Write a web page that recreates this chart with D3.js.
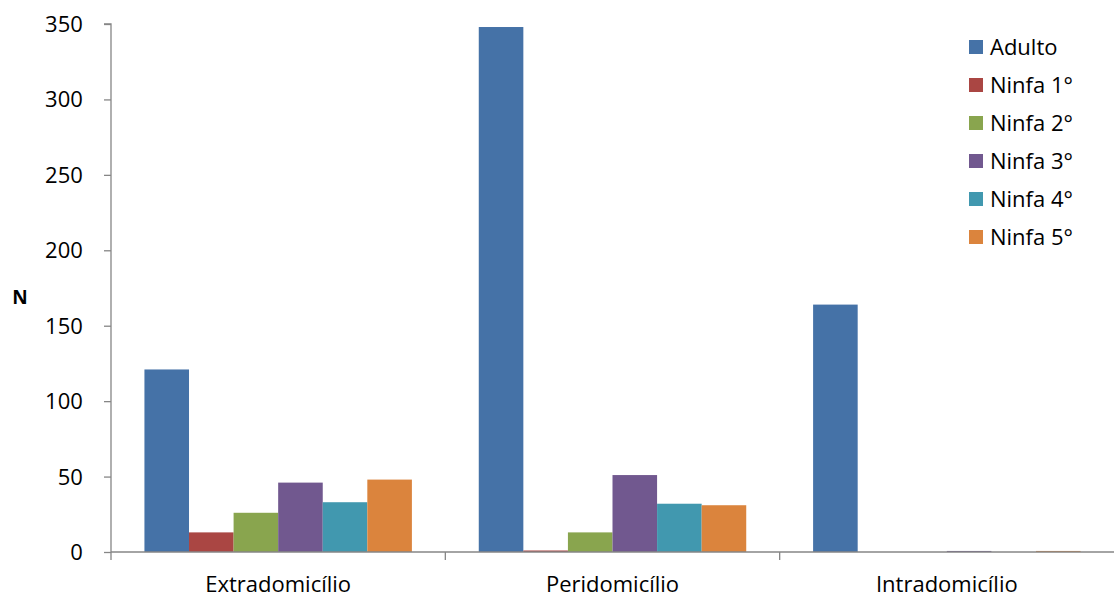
<!DOCTYPE html>
<html><head><meta charset="utf-8">
<script src="https://cdn.jsdelivr.net/npm/d3@7"></script>
<style>body{margin:0;background:#fff}svg{display:block;font-family:"Open Sans",sans-serif}</style>
</head><body><svg id="c" width="1114" height="599"></svg>
<script>
const categories = ["Extradomicílio", "Peridomicílio", "Intradomicílio"];
const seriesNames = ["Adulto", "Ninfa 1°", "Ninfa 2°", "Ninfa 3°", "Ninfa 4°", "Ninfa 5°"];
const adulto = [121, 348, 164];
const ninfa1 = [13, 1, 0];
const ninfa2 = [26, 13, 0];
const ninfa3 = [46, 51, 0.7];
const ninfa4 = [33, 32, 0];
const ninfa5 = [48, 31, 0.7];
const yTicks = [0, 50, 100, 150, 200, 250, 300, 350];
const colors = ["#4572A7", "#AA4643", "#89A54E", "#71588F", "#4198AF", "#DB843D"];
const seriesValues = [adulto, ninfa1, ninfa2, ninfa3, ninfa4, ninfa5];

const svg = d3.select("#c");
const m = {l: 111, r: 0, t: 24, b: 47};
const W = 1114, H = 599;
const FS = 22;
const x0 = d3.scaleBand().domain(categories).range([m.l, W - m.r]).paddingInner(0).paddingOuter(0);
// Excel-style: gap width 150% -> bar width = band/7.5, outer offset = 0.75 bar
const bw = x0.bandwidth() / 7.5;
const x1 = d3.scaleBand().domain(seriesNames)
  .range([bw * 0.75, x0.bandwidth() - bw * 0.75]).paddingInner(0).paddingOuter(0);
const y = d3.scaleLinear().domain([0, 350]).range([H - m.b, m.t]);
const axisColor = "#868686";

// bars
categories.forEach((c, ci) => {
  seriesNames.forEach((s, si) => {
    const v = seriesValues[si][ci];
    if (v <= 0) return;
    svg.append("rect")
      .attr("x", x0(c) + x1(s))
      .attr("y", y(v))
      .attr("width", x1.bandwidth())
      .attr("height", y(0) - y(v))
      .attr("fill", colors[si]);
  });
});

// y axis
const ya = svg.append("g").attr("transform", `translate(${m.l},0)`)
  .call(d3.axisLeft(y).tickValues(yTicks).tickSize(7).tickPadding(19).tickFormat(d3.format("d")));
ya.select(".domain").attr("stroke", axisColor).attr("stroke-width", 1.3).attr("d", `M-7,${y(350)}H0V${y(0) + 8}`);
ya.selectAll(".tick line").attr("stroke", axisColor).attr("stroke-width", 1.3);
ya.selectAll(".tick text").attr("font-size", FS).attr("fill", "#000").attr("font-family", "Open Sans").attr("dx", "-0.1em").attr("dy", "0.34em");

// x axis
const xa = svg.append("g").attr("transform", `translate(0,${y(0)})`)
  .call(d3.axisBottom(x0).tickSize(0).tickPadding(24));
xa.select(".domain").attr("stroke", axisColor).attr("stroke-width", 1.3).attr("d", `M${m.l},0H${W}`);
xa.selectAll(".tick text").attr("font-size", FS).attr("fill", "#000").attr("font-family", "Open Sans");
// group boundary ticks
const bounds = categories.map(c => x0(c)).concat([x0(categories[2]) + x0.bandwidth()]);
xa.selectAll(".bt").data(bounds.slice(1, 3)).enter().append("line")
  .attr("x1", d => d).attr("x2", d => d).attr("y1", 0).attr("y2", 8)
  .attr("stroke", axisColor).attr("stroke-width", 1.3);

// y title
svg.append("text").attr("x", 20).attr("y", 304).attr("text-anchor", "middle")
  .attr("font-size", 19).attr("font-weight", "bold").text("N");

// legend
const lg = svg.append("g").attr("transform", "translate(969,47)");
seriesNames.forEach((s, i) => {
  const g = lg.append("g").attr("transform", `translate(0,${i * 38})`);
  g.append("rect").attr("x", 0).attr("y", -7).attr("width", 14).attr("height", 14).attr("fill", colors[i]);
  g.append("text").attr("x", 21).attr("y", 8).attr("font-size", FS).text(s);
});
</script></body></html>
